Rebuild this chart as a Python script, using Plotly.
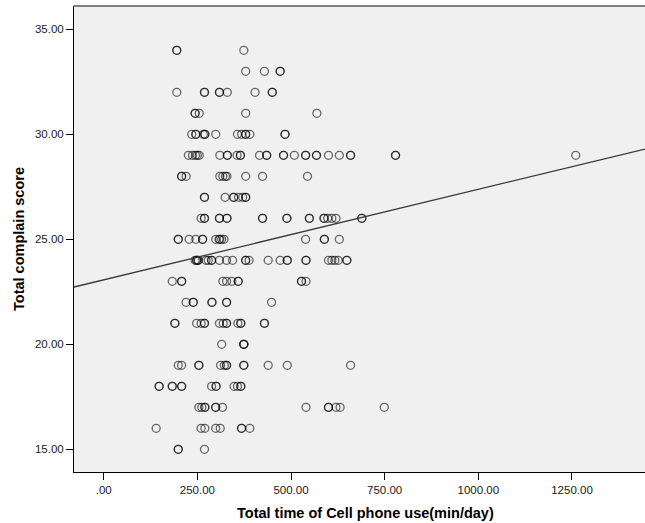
import plotly.graph_objects as go

# Data (complain score rows -> phone use minutes/day)
score_levels = [34, 33, 32, 31, 30, 29, 28, 27, 26, 25, 24, 23, 22, 21, 20, 19, 18, 17, 16, 15]
use_by_score = {
    34: [195, 195, 374],
    33: [379, 429, 471, 471],
    32: [195, 269, 269, 309, 309, 330, 404, 450, 450],
    31: [244, 244, 255, 379, 569],
    30: [235, 246, 246, 266, 270, 270, 299, 357, 368, 379, 379, 390, 484, 484],
    29: [226, 237, 245, 250, 255, 310, 330, 330, 356, 365, 365, 416, 435, 435, 480, 480,
         509, 539, 539, 568, 568, 600, 629, 659, 659, 779, 779, 1260],
    28: [208, 208, 220, 310, 318, 325, 329, 379, 424, 544],
    27: [269, 269, 324, 347, 347, 360, 371, 379, 379],
    26: [260, 269, 269, 309, 309, 329, 329, 424, 424, 489, 489, 549, 549, 588, 588, 598,
         609, 620, 689, 689],
    25: [199, 199, 228, 246, 264, 264, 299, 308, 310, 315, 321, 539, 589, 589, 629],
    24: [244, 248, 248, 252, 252, 273, 279, 288, 288, 309, 328, 344, 379, 379, 388, 439,
         471, 490, 490, 540, 540, 600, 609, 617, 626, 649, 649],
    23: [183, 208, 208, 318, 328, 342, 359, 359, 528, 528, 540],
    22: [220, 239, 239, 289, 289, 328, 328, 448],
    21: [190, 190, 248, 260, 269, 269, 309, 319, 328, 328, 358, 366, 366, 429, 429],
    20: [315, 374, 374, 374],
    19: [199, 208, 254, 254, 312, 322, 328, 328, 374, 374, 439, 490, 659],
    18: [148, 148, 183, 183, 208, 208, 288, 300, 300, 348, 357, 366, 366],
    17: [254, 262, 270, 270, 299, 299, 317, 540, 600, 600, 620, 631, 749],
    16: [140, 260, 270, 299, 311, 368, 368, 390],
    15: [199, 199, 269],
}

# Fit line coefficients
fit_intercept = 23.07
fit_slope = 0.00431

x_ticks = [0, 250, 500, 750, 1000, 1250]
x_tick_labels = [".00", "250.00", "500.00", "750.00", "1000.00", "1250.00"]
y_ticks = [15, 20, 25, 30, 35]
y_tick_labels = ["15.00", "20.00", "25.00", "30.00", "35.00"]

x_title = "Total time of Cell phone use(min/day)"
y_title = "Total complain score"

x_range = [-79.3, 1444.9]
y_range = [13.92, 36.11]

xs, ys = [], []
for s in score_levels:
    for u in use_by_score[s]:
        xs.append(u)
        ys.append(s)

fig = go.Figure()
fig.add_trace(go.Scatter(
    x=xs, y=ys, mode="markers",
    marker=dict(symbol="circle-open", size=8, color="rgba(0,0,0,0.58)",
                line=dict(width=1.3)),
    hoverinfo="skip", showlegend=False,
))
fig.add_trace(go.Scatter(
    x=x_range, y=[fit_intercept + fit_slope * v for v in x_range],
    mode="lines", line=dict(color="#3a3a3a", width=1.3),
    hoverinfo="skip", showlegend=False,
))

tick_font = dict(family="Liberation Sans, Arial, sans-serif", size=11.5, color="#1a1a1a")
title_font = dict(family="Liberation Sans, Arial, sans-serif", size=14.5, color="#000000")

fig.update_layout(
    width=645, height=523,
    margin=dict(l=74, r=0, t=6, b=51, pad=0),
    paper_bgcolor="white", plot_bgcolor="#f0f0f0",
    xaxis=dict(range=x_range, tickmode="array", tickvals=x_ticks, ticktext=x_tick_labels,
               ticks="outside", ticklen=7, tickwidth=1, tickcolor="black",
               showline=True, linecolor="black", linewidth=1, mirror=False,
               showgrid=False, zeroline=False, tickfont=tick_font),
    yaxis=dict(range=y_range, tickmode="array", tickvals=y_ticks, ticktext=y_tick_labels,
               ticks="outside", ticklen=7, tickwidth=1, tickcolor="black",
               showline=True, linecolor="black", linewidth=1, mirror=False,
               showgrid=False, zeroline=False, tickfont=tick_font),
    shapes=[dict(type="line", xref="paper", yref="paper", x0=0, x1=1, y0=1, y1=1,
                 line=dict(color="#808080", width=2))],
    annotations=[
        dict(text="<b>" + x_title + "</b>", xref="paper", yref="paper",
             x=0.511, y=0, yshift=-41, xanchor="center", yanchor="middle",
             showarrow=False, font=title_font),
        dict(text="<b>" + y_title + "</b>", xref="paper", yref="paper",
             x=0, xshift=-55, y=0.5, xanchor="center", yanchor="middle",
             textangle=-90, showarrow=False, font=title_font),
    ],
)

fig.write_html(
    "out.html",
    config={"displayModeBar": False},
    post_script="document.body.style.margin='0';document.body.style.overflow='hidden';",
)
